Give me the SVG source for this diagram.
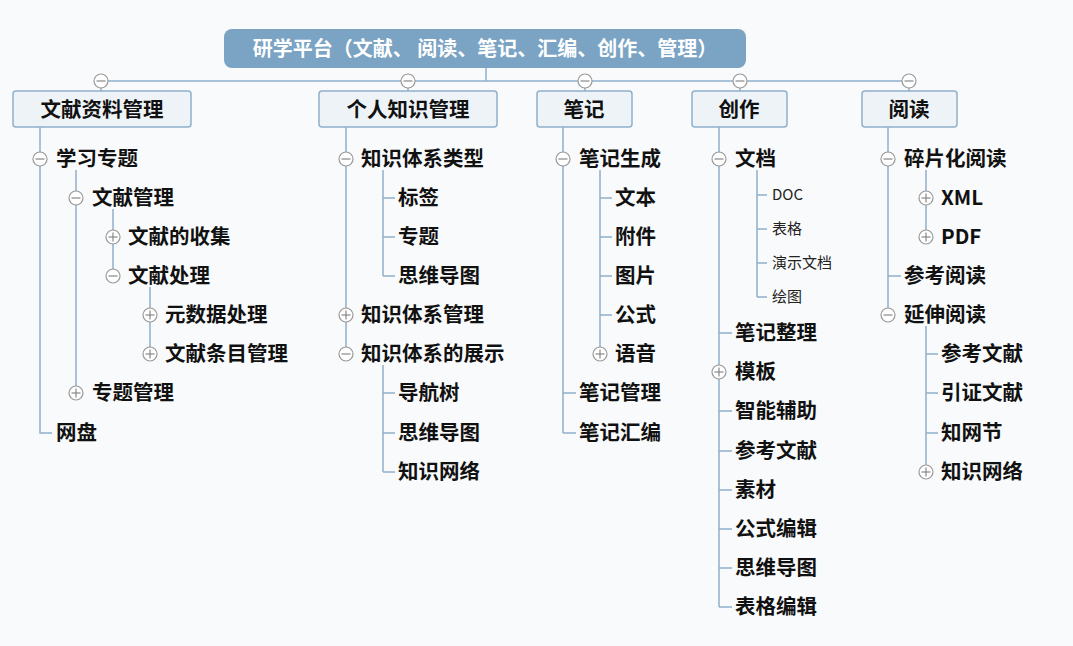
<svg xmlns="http://www.w3.org/2000/svg" width="1073" height="646" viewBox="0 0 1073 646">
<defs>
<style>
.ln{stroke:#8fb0cc;stroke-width:1.5;fill:none}
.bx{fill:#eef3f8;stroke:#8fb0cc;stroke-width:1.5}
.t{font-family:"Noto Sans CJK SC","Liberation Sans",sans-serif;font-weight:bold;font-size:20.5px;fill:#111}
.s{font-family:"Noto Sans CJK SC","Liberation Sans",sans-serif;font-size:15px;fill:#222}
.c{fill:#fff;stroke:#999;stroke-width:1.2}
.cm{stroke:#888;stroke-width:1.2}
</style>
<g id="mi"><circle class="c" r="7"/><line class="cm" x1="-4.5" y1="0" x2="4.5" y2="0"/></g>
<g id="pl"><circle class="c" r="7"/><line class="cm" x1="-4.5" y1="0" x2="4.5" y2="0"/><line class="cm" x1="0" y1="-4.5" x2="0" y2="4.5"/></g>
</defs>
<rect width="1073" height="646" fill="#f9fafb"/>
<g id="connectors">
<path class="ln" d="M486 68V81M101 81H909M101 81V91M408 81V91M585 81V91M740 81V91M909 81V91"/>
<path class="ln" d="M40 127V433H52M76 170V393M113 209V276M150 287V354M76 198H69"/>
<path class="ln" d="M346 127V354M383 170V276M383 198H395M383 237H395M383 276H395M383 365V472M383 393H395M383 433H395M383 472H395"/>
<path class="ln" d="M563 127V433M600 170V354M600 198H612M600 237H612M600 276H612M600 315H612M563 393H576M563 433H576"/>
<path class="ln" d="M719 127V607M757 170V297M757 195H767M757 229H767M757 263H767M757 297H767M719 333H732M719 411H732M719 451H732M719 490H732M719 529H732M719 568H732M719 607H732"/>
<path class="ln" d="M888 127V315M926 170V237M888 276H901M926 326V472M926 354H938M926 393H938M926 433H938"/>
</g>
<g id="root"><rect x="224" y="29" width="522" height="39" rx="8" fill="#7aa3c4"/>
<text x="485" y="56" text-anchor="middle" class="t" style="fill:#fff;font-size:20px">研学平台（文献、 阅读、笔记、汇编、创作、管理）</text></g>
<g id="toggles">
<use href="#mi" x="101" y="81"/><use href="#mi" x="408" y="81"/><use href="#mi" x="585" y="81"/><use href="#mi" x="740" y="81"/><use href="#mi" x="909" y="81"/>
<use href="#mi" x="40" y="159"/><use href="#mi" x="76" y="198"/><use href="#pl" x="113" y="237"/><use href="#mi" x="113" y="276"/><use href="#pl" x="150" y="315"/><use href="#pl" x="150" y="354"/><use href="#pl" x="76" y="393"/>
<use href="#mi" x="346" y="159"/><use href="#pl" x="346" y="315"/><use href="#mi" x="346" y="354"/>
<use href="#mi" x="563" y="159"/><use href="#pl" x="600" y="354"/>
<use href="#mi" x="719" y="159"/><use href="#pl" x="719" y="372"/>
<use href="#mi" x="888" y="159"/><use href="#pl" x="926" y="198"/><use href="#pl" x="926" y="237"/><use href="#mi" x="888" y="315"/><use href="#pl" x="926" y="472"/>
</g>
<g id="b1"><rect class="bx" x="13" y="91" width="178" height="36" rx="3"/><text class="t" x="102" y="117" text-anchor="middle">文献资料管理</text>
<text class="t" x="56" y="166">学习专题</text><text class="t" x="92" y="205">文献管理</text><text class="t" x="128" y="244">文献的收集</text><text class="t" x="128" y="283">文献处理</text><text class="t" x="165" y="322">元数据处理</text><text class="t" x="165" y="361">文献条目管理</text><text class="t" x="92" y="400">专题管理</text><text class="t" x="56" y="440">网盘</text></g>
<g id="b2"><rect class="bx" x="319" y="91" width="178" height="36" rx="3"/><text class="t" x="408" y="117" text-anchor="middle">个人知识管理</text>
<text class="t" x="361" y="166">知识体系类型</text><text class="t" x="398" y="205">标签</text><text class="t" x="398" y="244">专题</text><text class="t" x="398" y="283">思维导图</text><text class="t" x="361" y="322">知识体系管理</text><text class="t" x="361" y="361">知识体系的展示</text><text class="t" x="398" y="400">导航树</text><text class="t" x="398" y="440">思维导图</text><text class="t" x="398" y="479">知识网络</text></g>
<g id="b3"><rect class="bx" x="537" y="91" width="95" height="36" rx="3"/><text class="t" x="584" y="117" text-anchor="middle">笔记</text>
<text class="t" x="579" y="166">笔记生成</text><text class="t" x="615" y="205">文本</text><text class="t" x="615" y="244">附件</text><text class="t" x="615" y="283">图片</text><text class="t" x="615" y="322">公式</text><text class="t" x="615" y="361">语音</text><text class="t" x="579" y="400">笔记管理</text><text class="t" x="579" y="440">笔记汇编</text></g>
<g id="b4"><rect class="bx" x="692" y="91" width="95" height="36" rx="3"/><text class="t" x="739" y="117" text-anchor="middle">创作</text>
<text class="t" x="735" y="166">文档</text><text class="s" x="772" y="200">DOC</text><text class="s" x="772" y="234">表格</text><text class="s" x="772" y="268">演示文档</text><text class="s" x="772" y="302">绘图</text>
<text class="t" x="735" y="340">笔记整理</text><text class="t" x="735" y="379">模板</text><text class="t" x="735" y="418">智能辅助</text><text class="t" x="735" y="458">参考文献</text><text class="t" x="735" y="497">素材</text><text class="t" x="735" y="536">公式编辑</text><text class="t" x="735" y="575">思维导图</text><text class="t" x="735" y="614">表格编辑</text></g>
<g id="b5"><rect class="bx" x="862" y="91" width="95" height="36" rx="3"/><text class="t" x="909" y="117" text-anchor="middle">阅读</text>
<text class="t" x="904" y="166">碎片化阅读</text><text class="t" x="941" y="205">XML</text><text class="t" x="941" y="244">PDF</text><text class="t" x="904" y="283">参考阅读</text><text class="t" x="904" y="322">延伸阅读</text><text class="t" x="941" y="361">参考文献</text><text class="t" x="941" y="400">引证文献</text><text class="t" x="941" y="440">知网节</text><text class="t" x="941" y="479">知识网络</text></g>
</svg>
